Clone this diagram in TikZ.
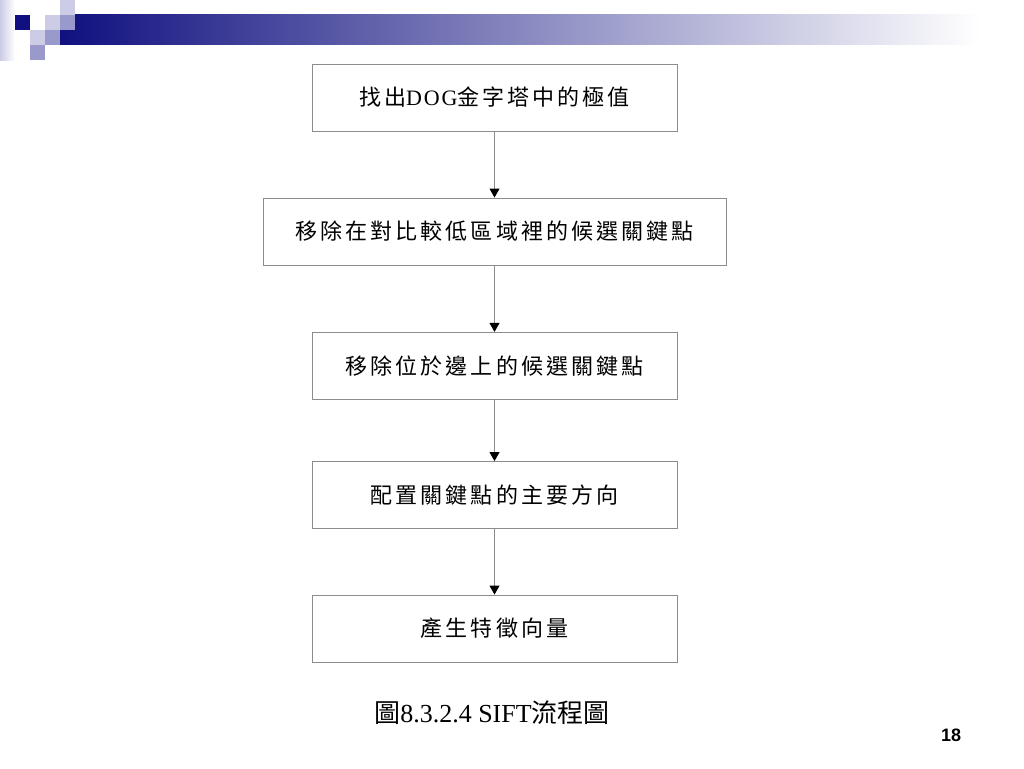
\documentclass[tikz,border=0pt]{standalone}
\usepackage{fontspec}
\setmainfont{Liberation Serif}
\newfontfamily\cjk{Noto Sans CJK TC}
\newfontfamily\cjkbox[LetterSpace=14]{Noto Sans CJK TC}
\newfontfamily\latinbox[LetterSpace=8]{Liberation Serif}
\newfontfamily\pagefont{Liberation Sans}
\usepackage{tikz}
\usetikzlibrary{arrows.meta}
\definecolor{navy}{RGB}{16,16,128}
\definecolor{barmid}{RGB}{165,165,188}
\definecolor{lav}{RGB}{204,204,230}
\definecolor{midlav}{RGB}{153,153,204}
\definecolor{rim}{RGB}{140,140,140}

\begin{document}
\begin{tikzpicture}[x=1pt, y=-1pt,
    stage/.style={draw=rim, line width=0.9pt, minimum height=67pt, inner sep=0pt,
      font=\fontsize{22}{26}\selectfont},
    flow/.style={draw=rim, line width=0.9pt, -{Triangle[length=9pt, width=10pt, black]}}]
      \useasboundingbox (0, 0) rectangle (1024, 768);
      % title bar
      \shade[left color=navy, middle color=barmid, right color=white] (60, 15) rectangle (980, 45);
      \shade[left color=lav, right color=white] (0, 0) rectangle (15, 60);
      \fill[navy] (15, 15) rectangle (30, 30);
      \fill[lav] (45, 15) rectangle (60, 30);
      \fill[midlav] (60, 15) rectangle (75, 30);
      \fill[lav] (60, 0) rectangle (75, 15);
      \fill[lav] (30, 30) rectangle (45, 45);
      \fill[midlav] (45, 30) rectangle (60, 45);
      \fill[midlav] (30, 45) rectangle (45, 60);

      \node[stage, minimum width=365pt] (1) at (494.5, 97.5){{\cjkbox 找出}{\latinbox DOG}{\cjkbox 金字塔中的極值}};
      \node[stage, minimum width=463pt] (2) at (494.5, 231.5){\cjkbox 移除在對比較低區域裡的候選關鍵點};
      \node[stage, minimum width=365pt] (3) at (494.5, 365.8){\cjkbox 移除位於邊上的候選關鍵點};
      \node[stage, minimum width=365pt] (4) at (494.5, 495){\cjkbox 配置關鍵點的主要方向};
      \node[stage, minimum width=365pt] (5) at (494.5, 628.5){\cjkbox 產生特徵向量};

      \draw[flow] (1) -- (2);
      \draw[flow] (2) -- (3);
      \draw[flow] (3) -- (4);
      \draw[flow] (4) -- (5);

      \node[font=\fontsize{26}{30}\selectfont] (caption) at (492, 713){{\cjk 圖}8.3.2.4 SIFT{\cjk 流程圖}};
      \node[font=\pagefont\bfseries\fontsize{18}{20}\selectfont] (page) at (951, 735){18};
    \end{tikzpicture}
\end{document}
